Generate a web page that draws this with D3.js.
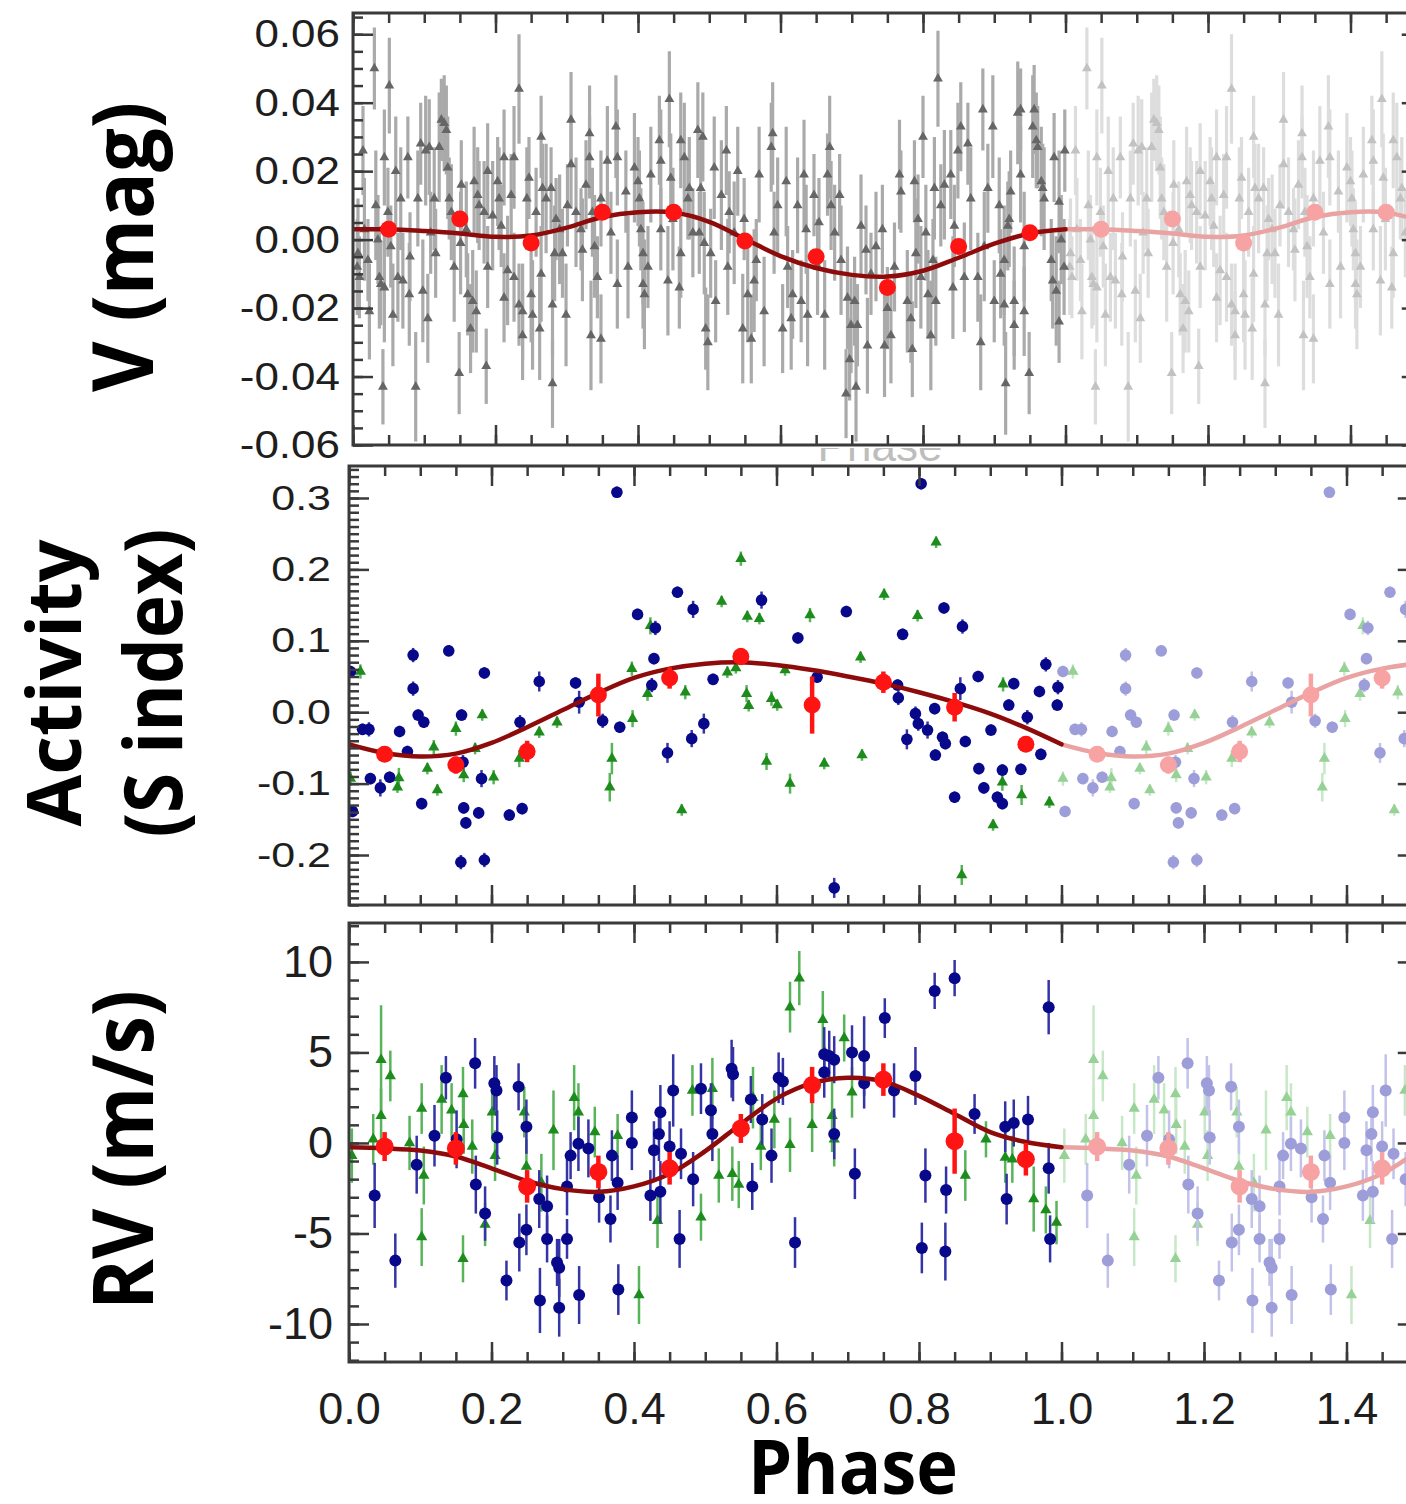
<!DOCTYPE html>
<html><head><meta charset="utf-8">
<script src="https://cdn.jsdelivr.net/npm/d3@7"></script>
<style>html,body{margin:0;padding:0;background:#fff;} svg{display:block;}</style>
</head><body>
<script>
// ---------------- DATA ----------------
const phaseDomain = [0, 1.5];
const xTickValues = [0, 0.2, 0.4, 0.6, 0.8, 1.0, 1.2, 1.4];
const xTickLabels = ["0.0", "0.2", "0.4", "0.6", "0.8", "1.0", "1.2", "1.4"];

const vTickValues = [-0.06, -0.04, -0.02, 0, 0.02, 0.04, 0.06];
const vTickLabels = ["-0.06", "-0.04", "-0.02", "0.00", "0.02", "0.04", "0.06"];
const sTickValues = [-0.2, -0.1, 0, 0.1, 0.2, 0.3];
const sTickLabels = ["-0.2", "-0.1", "0.0", "0.1", "0.2", "0.3"];
const rvTickValues = [-10, -5, 0, 5, 10];
const rvTickLabels = ["-10", "-5", "0", "5", "10"];

// V photometry: [phase, mag, err]
const vPhot = [
[0.006,-0.008,0.014],[0.009,-0.011,0.012],[0.007,-0.004,0.016],[0.014,0.026,0.013],[0.016,0.003,0.015],[0.021,-0.006,0.012],[0.023,-0.021,0.014],[0.030,0.050,0.012],[0.032,0.010,0.016],[0.035,0.000,0.013],
[0.037,-0.011,0.015],[0.039,-0.013,0.012],[0.042,-0.043,0.011],[0.044,0.024,0.014],[0.044,-0.014,0.016],[0.049,0.008,0.013],[0.051,0.045,0.014],[0.053,-0.002,0.012],[0.056,-0.022,0.015],[0.060,0.020,0.016],
[0.063,-0.011,0.013],[0.067,0.012,0.015],[0.070,-0.012,0.014],[0.077,0.024,0.012],[0.079,-0.016,0.015],[0.080,-0.005,0.013],[0.088,-0.043,0.016],[0.091,0.012,0.014],[0.095,0.028,0.012],[0.098,-0.015,0.015],
[0.102,0.026,0.016],[0.105,-0.023,0.013],[0.107,0.027,0.014],[0.109,0.002,0.012],[0.114,0.012,0.015],[0.116,-0.004,0.013],[0.121,0.027,0.016],[0.124,0.035,0.012],[0.128,0.034,0.014],[0.131,0.032,0.013],
[0.133,0.021,0.015],[0.135,0.012,0.012],[0.138,0.008,0.014],[0.142,-0.008,0.016],[0.149,-0.039,0.012],[0.151,-0.001,0.015],[0.152,0.016,0.013],[0.159,0.003,0.014],[0.161,-0.016,0.012],[0.165,-0.026,0.013],
[0.168,-0.018,0.015],[0.170,0.017,0.016],[0.173,-0.021,0.012],[0.175,0.013,0.014],[0.177,0.010,0.013],[0.184,0.008,0.015],[0.187,-0.037,0.011],[0.189,0.020,0.014],[0.189,-0.008,0.012],[0.196,0.007,0.016],
[0.203,0.017,0.013],[0.205,0.012,0.015],[0.208,0.004,0.012],[0.212,0.024,0.014],[0.212,-0.017,0.013],[0.217,-0.009,0.016],[0.222,0.013,0.012],[0.226,0.024,0.015],[0.226,-0.011,0.013],[0.233,0.044,0.016],
[0.233,-0.019,0.012],[0.238,-0.021,0.014],[0.238,-0.028,0.013],[0.244,0.012,0.015],[0.247,0.018,0.012],[0.250,-0.016,0.014],[0.252,-0.022,0.016],[0.257,0.008,0.013],[0.262,-0.026,0.015],[0.264,0.030,0.012],
[0.264,-0.010,0.014],[0.266,0.015,0.013],[0.271,0.012,0.016],[0.278,0.015,0.012],[0.280,-0.042,0.013],[0.280,-0.019,0.015],[0.283,-0.004,0.014],[0.285,0.006,0.012],[0.290,0.003,0.016],[0.294,-0.004,0.013],
[0.299,-0.022,0.015],[0.301,0.010,0.012],[0.306,0.035,0.014],[0.306,0.022,0.013],[0.313,0.008,0.016],[0.320,0.003,0.012],[0.322,-0.003,0.015],[0.327,0.016,0.013],[0.332,0.031,0.014],[0.332,0.024,0.012],
[0.334,-0.028,0.016],[0.336,0.008,0.013],[0.339,-0.002,0.015],[0.343,-0.011,0.012],[0.348,0.012,0.014],[0.348,-0.029,0.013],[0.357,0.023,0.016],[0.362,0.002,0.012],[0.369,0.033,0.015],[0.371,-0.013,0.013],
[0.371,0.024,0.014],[0.383,0.014,0.012],[0.386,-0.008,0.015],[0.395,0.021,0.016],[0.400,0.017,0.013],[0.402,0.012,0.014],[0.404,0.003,0.012],[0.407,-0.004,0.015],[0.407,-0.013,0.013],[0.409,-0.016,0.016],
[0.414,-0.008,0.012],[0.418,0.019,0.014],[0.430,0.029,0.013],[0.432,0.023,0.015],[0.432,0.003,0.012],[0.442,-0.012,0.016],[0.444,0.041,0.014],[0.446,0.018,0.013],[0.449,0.006,0.015],[0.458,-0.014,0.012],
[0.460,0.029,0.014],[0.460,-0.004,0.013],[0.465,0.024,0.016],[0.470,0.012,0.012],[0.472,0.015,0.015],[0.477,0.002,0.013],[0.484,0.032,0.014],[0.486,0.002,0.012],[0.488,0.015,0.016],[0.491,0.030,0.013],
[0.493,-0.001,0.015],[0.495,-0.026,0.012],[0.498,-0.030,0.014],[0.502,-0.004,0.013],[0.507,0.021,0.015],[0.509,-0.018,0.012],[0.517,0.013,0.016],[0.524,0.026,0.013],[0.526,-0.008,0.014],[0.528,0.008,0.012],
[0.535,0.002,0.015],[0.540,0.020,0.013],[0.547,-0.026,0.016],[0.549,0.006,0.012],[0.554,-0.016,0.014],[0.559,-0.029,0.013],[0.563,-0.012,0.015],[0.566,-0.006,0.012],[0.570,0.019,0.014],[0.577,-0.021,0.016],
[0.587,0.027,0.013],[0.589,0.031,0.015],[0.591,0.002,0.012],[0.596,0.010,0.014],[0.603,-0.026,0.013],[0.608,0.017,0.016],[0.610,-0.008,0.012],[0.615,-0.023,0.015],[0.617,-0.016,0.013],[0.624,0.010,0.014],
[0.629,-0.018,0.012],[0.633,0.019,0.016],[0.636,0.003,0.013],[0.638,-0.022,0.015],[0.647,0.013,0.012],[0.652,-0.008,0.014],[0.654,0.005,0.013],[0.662,-0.022,0.016],[0.666,0.019,0.012],[0.669,0.027,0.015],
[0.671,0.010,0.013],[0.676,0.002,0.014],[0.683,0.013,0.012],[0.685,-0.006,0.016],[0.692,-0.045,0.013],[0.694,-0.017,0.015],[0.697,-0.035,0.012],[0.699,-0.025,0.014],[0.704,-0.018,0.013],[0.706,-0.043,0.016],
[0.708,-0.025,0.012],[0.713,0.004,0.015],[0.720,-0.003,0.013],[0.722,-0.031,0.014],[0.727,-0.010,0.012],[0.734,-0.002,0.016],[0.743,0.003,0.013],[0.746,-0.031,0.015],[0.750,-0.020,0.012],[0.755,-0.028,0.014],
[0.760,-0.008,0.013],[0.767,0.019,0.016],[0.769,0.014,0.012],[0.778,-0.018,0.015],[0.783,-0.023,0.013],[0.785,-0.032,0.014],[0.788,0.017,0.012],[0.790,-0.004,0.016],[0.793,0.006,0.013],[0.797,-0.011,0.015],
[0.800,0.030,0.012],[0.804,0.002,0.014],[0.807,-0.016,0.013],[0.811,-0.028,0.016],[0.814,-0.006,0.012],[0.816,0.015,0.015],[0.818,-0.018,0.013],[0.821,0.047,0.014],[0.825,0.010,0.012],[0.830,0.016,0.016],
[0.839,0.019,0.013],[0.842,-0.014,0.015],[0.844,0.004,0.012],[0.849,0.026,0.014],[0.853,0.033,0.013],[0.858,-0.011,0.016],[0.863,0.028,0.012],[0.867,0.012,0.015],[0.877,-0.011,0.013],[0.881,-0.030,0.014],
[0.884,0.038,0.012],[0.886,-0.002,0.016],[0.891,0.015,0.013],[0.898,0.033,0.015],[0.900,-0.018,0.012],[0.907,0.010,0.014],[0.909,-0.010,0.013],[0.914,-0.006,0.016],[0.914,-0.019,0.012],[0.916,-0.042,0.015],
[0.919,0.004,0.013],[0.921,0.006,0.014],[0.923,0.014,0.012],[0.928,-0.018,0.016],[0.928,-0.025,0.013],[0.933,0.037,0.015],[0.937,0.038,0.012],[0.937,0.019,0.014],[0.942,-0.021,0.013],[0.942,-0.002,0.016],
[0.949,-0.039,0.012],[0.954,0.033,0.015],[0.956,0.038,0.013],[0.959,0.029,0.014],[0.961,0.027,0.012],[0.966,0.017,0.016],[0.968,0.015,0.013],[0.970,0.012,0.015],[0.980,-0.006,0.012],[0.982,-0.012,0.014],
[0.984,0.024,0.013],[0.987,-0.015,0.016],[0.991,-0.024,0.012],[0.991,0.011,0.015],[0.994,0.000,0.013],[0.998,-0.008,0.014],[0.999,0.026,0.012]
];

// Activity (S index), two instruments: [phase, S, err]
const sBlue = [
[0.002,0.057,0.008],[0.019,-0.024,0.008],[0.028,-0.024,0.010],[0.005,-0.139,0.008],[0.030,-0.093,0.008],[0.044,-0.106,0.012],[0.057,-0.091,0.008],[0.071,-0.027,0.008],[0.082,-0.055,0.008],[0.090,0.080,0.010],
[0.090,0.033,0.010],[0.097,-0.004,0.008],[0.105,-0.014,0.008],[0.102,-0.128,0.008],[0.140,0.086,0.008],[0.158,-0.004,0.008],[0.160,-0.070,0.010],[0.161,-0.134,0.008],[0.164,-0.155,0.008],[0.157,-0.210,0.010],
[0.182,-0.141,0.008],[0.186,-0.093,0.012],[0.190,0.055,0.008],[0.190,-0.207,0.010],[0.225,-0.144,0.008],[0.240,-0.014,0.010],[0.243,-0.135,0.008],[0.267,0.043,0.014],[0.318,0.041,0.008],[0.323,0.014,0.016],
[0.356,-0.012,0.010],[0.380,-0.021,0.008],[0.376,0.308,0.008],[0.405,0.137,0.008],[0.430,0.118,0.010],[0.428,0.075,0.008],[0.425,0.038,0.010],[0.447,-0.057,0.014],[0.461,0.168,0.008],[0.483,0.144,0.012],
[0.481,-0.037,0.012],[0.498,-0.016,0.014],[0.511,0.046,0.008],[0.579,0.157,0.012],[0.630,0.104,0.008],[0.657,0.049,0.008],[0.681,-0.246,0.014],[0.698,0.141,0.008],[0.777,0.109,0.008],[0.770,0.038,0.008],
[0.771,0.020,0.010],[0.803,0.320,0.008],[0.795,-0.002,0.010],[0.799,-0.016,0.010],[0.812,-0.025,0.012],[0.783,-0.038,0.014],[0.822,0.005,0.008],[0.823,-0.060,0.008],[0.835,0.146,0.008],[0.833,-0.035,0.008],
[0.837,-0.044,0.008],[0.850,-0.119,0.008],[0.858,0.033,0.016],[0.861,0.120,0.010],[0.865,-0.041,0.008],[0.883,0.050,0.008],[0.884,-0.079,0.008],[0.891,-0.106,0.008],[0.901,-0.025,0.008],[0.910,-0.119,0.008],
[0.917,-0.128,0.008],[0.917,-0.081,0.008],[0.926,0.010,0.008],[0.933,0.040,0.008],[0.978,0.067,0.010],[0.969,0.029,0.008],[0.995,0.035,0.010],[0.994,0.010,0.008],[0.952,-0.007,0.010],[0.971,-0.059,0.008],
[0.943,-0.080,0.008]
];
const sGreen = [
[0.016,0.057,0.010],[0.002,-0.093,0.010],[0.070,-0.092,0.014],[0.068,-0.105,0.008],[0.119,-0.049,0.010],[0.110,-0.079,0.008],[0.124,-0.109,0.008],[0.150,-0.023,0.010],[0.161,-0.088,0.010],[0.177,-0.051,0.008],
[0.187,-0.004,0.008],[0.203,-0.091,0.010],[0.239,-0.065,0.012],[0.267,-0.028,0.008],[0.292,-0.014,0.008],[0.369,-0.065,0.022],[0.366,-0.105,0.020],[0.397,0.061,0.010],[0.398,-0.009,0.012],[0.419,0.026,0.010],
[0.423,0.121,0.012],[0.467,-0.137,0.008],[0.472,0.028,0.010],[0.523,0.155,0.008],[0.531,0.056,0.008],[0.543,0.062,0.008],[0.550,0.215,0.010],[0.559,0.134,0.008],[0.576,0.131,0.008],[0.558,0.026,0.012],
[0.561,0.009,0.008],[0.593,0.019,0.010],[0.601,0.010,0.008],[0.612,0.059,0.008],[0.586,-0.069,0.012],[0.619,-0.100,0.014],[0.647,0.136,0.010],[0.667,-0.072,0.008],[0.718,0.077,0.008],[0.720,-0.060,0.008],
[0.751,0.165,0.008],[0.798,0.135,0.008],[0.824,0.238,0.008],[0.860,-0.228,0.014],[0.904,-0.158,0.008],[0.918,0.039,0.010],[0.917,-0.098,0.012],[0.944,-0.116,0.014],[0.983,-0.126,0.008]
];

// Radial velocity (m/s), two instruments: [phase, RV, err]
const rvBlue = [
[0.036,-2.9,1.8],[0.065,-6.5,1.5],[0.095,-1.2,1.6],[0.120,0.4,1.7],[0.136,3.6,1.2],[0.151,0.2,1.6],[0.177,4.4,1.4],[0.178,-2.3,1.6],[0.191,-3.9,1.5],[0.204,3.3,1.5],
[0.207,2.9,1.4],[0.208,0.3,1.5],[0.221,-7.6,1.1],[0.238,3.1,1.3],[0.249,0.9,1.5],[0.249,-4.8,1.4],[0.239,-5.5,1.6],[0.267,-3.1,1.6],[0.278,-3.5,1.7],[0.278,-5.3,1.3],
[0.268,-8.7,1.8],[0.292,-6.6,1.3],[0.295,-6.9,1.6],[0.295,-9.1,1.6],[0.306,-2.4,1.6],[0.306,-5.3,1.1],[0.311,-0.7,1.3],[0.322,-0.05,1.5],[0.336,-0.3,1.6],[0.323,-8.4,1.6],
[0.351,-3.0,1.4],[0.369,-0.7,1.4],[0.367,-4.2,1.3],[0.377,-2.2,1.5],[0.378,-8.1,1.4],[0.397,1.4,1.5],[0.397,0.0,1.5],[0.423,-2.9,1.4],[0.428,-0.4,1.6],[0.435,0.5,1.5],
[0.437,1.7,1.5],[0.437,-2.7,1.7],[0.450,-0.2,1.4],[0.455,2.9,2.0],[0.466,-0.6,1.4],[0.464,-5.3,1.6],[0.483,-2.0,1.5],[0.494,3.0,1.4],[0.508,1.8,1.5],[0.510,0.5,1.5],
[0.537,4.1,1.6],[0.539,3.8,1.5],[0.564,2.4,1.3],[0.566,-2.4,1.3],[0.580,1.3,1.4],[0.593,-0.7,1.5],[0.603,3.6,1.4],[0.609,3.4,1.3],[0.626,-5.5,1.4],[0.667,4.9,1.5],
[0.674,4.8,1.4],[0.681,4.6,1.3],[0.667,3.9,1.4],[0.681,0.5,1.4],[0.706,5.0,1.5],[0.710,-1.7,1.4],[0.723,4.8,2.2],[0.723,3.3,1.4],[0.752,6.9,1.1],[0.765,2.9,1.5],
[0.795,3.7,1.6],[0.804,-5.8,1.4],[0.809,-1.8,1.5],[0.822,8.4,1.0],[0.837,-6.0,1.6],[0.838,-2.6,1.3],[0.850,9.1,1.0],[0.878,1.6,1.1],[0.921,0.9,1.4],[0.923,-3.1,1.4],
[0.933,1.1,1.3],[0.953,1.3,1.3],[0.982,7.5,1.5],[0.982,-1.4,1.4],[0.984,-5.3,1.3]
];
const rvGreen = [
[0.004,-0.7,1.5],[0.034,0.2,1.4],[0.045,4.6,3.0],[0.045,1.5,1.5],[0.058,3.7,1.4],[0.085,0.0,1.5],[0.102,1.9,1.4],[0.105,-1.8,1.6],[0.102,-5.2,1.6],[0.130,2.4,1.9],
[0.144,1.8,1.5],[0.160,2.7,1.5],[0.161,1.0,1.6],[0.173,-0.2,1.5],[0.160,-6.4,1.3],[0.191,-4.5,1.2],[0.201,1.7,1.5],[0.205,-0.7,1.4],[0.246,1.7,1.4],[0.249,-1.3,1.5],
[0.270,-2.2,1.6],[0.287,0.7,2.2],[0.316,2.5,1.8],[0.322,1.7,1.6],[0.345,0.6,1.4],[0.377,0.4,1.2],[0.407,-8.4,1.6],[0.433,-4.3,1.5],[0.482,2.9,1.4],[0.494,-4.1,1.3],
[0.510,3.0,1.7],[0.519,-1.8,1.5],[0.538,-1.7,1.5],[0.547,-2.3,1.3],[0.567,2.5,1.7],[0.578,-0.2,1.3],[0.597,1.3,1.6],[0.619,7.5,1.4],[0.632,9.1,1.5],[0.619,-0.1,1.5],
[0.650,1.0,1.5],[0.665,6.8,1.6],[0.678,1.5,2.0],[0.681,0.2,1.5],[0.695,5.8,1.3],[0.706,2.8,1.4],[0.865,-1.8,1.4],[0.894,0.2,1.0],[0.921,-0.8,1.4],[0.931,-0.9,1.3],
[0.961,-3.1,1.8],[0.978,-3.7,1.3],[0.993,-4.4,1.2]
];

// Binned averages: [phase, value, err]
const vBins = [[0.05,0.003,0],[0.15,0.006,0],[0.25,-0.001,0],[0.35,0.008,0],[0.45,0.008,0],[0.55,-0.0004,0],[0.65,-0.005,0],[0.75,-0.014,0],[0.85,-0.002,0],[0.95,0.002,0]];
const sBins = [[0.05,-0.059,0.008],[0.15,-0.074,0.012],[0.25,-0.055,0.015],[0.35,0.024,0.030],[0.45,0.048,0.015],[0.55,0.078,0.012],[0.65,0.010,0.040],[0.75,0.042,0.015],[0.85,0.007,0.020],[0.95,-0.045,0.010]];
const rvBins = [[0.05,-0.2,0.8],[0.15,-0.3,0.9],[0.25,-2.4,0.9],[0.35,-1.6,0.9],[0.45,-1.4,0.9],[0.55,0.8,0.8],[0.65,3.2,1.0],[0.75,3.5,0.9],[0.85,0.1,1.8],[0.95,-0.9,0.9]];

// Fitted model curves sampled over one phase: [phase, value]
const vModel = [[0,0.003],[0.05,0.003],[0.10,0.0025],[0.15,0.0018],[0.20,0.0008],[0.25,0.0012],[0.30,0.0035],[0.35,0.0066],[0.40,0.0080],[0.45,0.0079],[0.50,0.0052],[0.55,0.0002],[0.60,-0.0048],[0.65,-0.0083],[0.70,-0.0103],[0.75,-0.0108],[0.80,-0.0091],[0.85,-0.0053],[0.90,-0.0012],[0.95,0.0018],[1.00,0.003]];
const sModel = [[0,-0.045],[0.05,-0.057],[0.10,-0.062],[0.15,-0.058],[0.20,-0.043],[0.25,-0.021],[0.30,0.003],[0.35,0.027],[0.40,0.048],[0.45,0.061],[0.50,0.068],[0.55,0.070],[0.60,0.066],[0.65,0.059],[0.70,0.050],[0.75,0.040],[0.80,0.028],[0.85,0.014],[0.90,-0.002],[0.95,-0.022],[1.00,-0.045]];
const rvModel = [[0,-0.24],[0.05,-0.30],[0.10,-0.42],[0.15,-0.75],[0.20,-1.40],[0.25,-2.10],[0.30,-2.55],[0.35,-2.70],[0.40,-2.40],[0.45,-1.70],[0.50,-0.45],[0.55,1.05],[0.60,2.45],[0.65,3.30],[0.70,3.60],[0.75,3.40],[0.80,2.60],[0.85,1.60],[0.90,0.60],[0.95,0.05],[1.00,-0.24]];

// ---------------- DRAWING ----------------
const W = 1406, H = 1504;
const svg = d3.select("body").append("svg").attr("width", W).attr("height", H);
svg.append("rect").attr("width", W).attr("height", H).attr("fill", "#fff");
const defs = svg.append("defs");

const COL = {
  gray: "#666666", grayBar: "#aaaaaa", grayL: "#c2c2c2", grayBarL: "#dddddd",
  navy: "#08088a", navyBar: "#3434a6", navyL: "#9d9dd9", navyBarL: "#c2c2ea",
  green: "#1d8c1d", greenBar: "#58b458", greenL: "#96d296", greenBarL: "#c6e8c6",
  red: "#ff1414", redL: "#f7a3a3", curve: "#8e0b0b", curveL: "#eaa3a3", axis: "#3a3a3a"
};
const TICK_FONT = "'Liberation Sans', Arial, Helvetica, sans-serif";
const TITLE_FONT = "'Open Sans', 'Noto Sans', sans-serif";
const PX_PER_PHASE = 712.5;

function drawSeries(g, data, x, y, shift, o) {
  const pts = data.map(d => [d[0] + shift, d[1], d[2]]).filter(d => d[0] >= phaseDomain[0] && d[0] <= phaseDomain[1] + 0.02);
  g.append("g").selectAll("line").data(pts).join("line")
    .attr("x1", d => x(d[0])).attr("x2", d => x(d[0]))
    .attr("y1", d => y(d[1] - d[2])).attr("y2", d => y(d[1] + d[2]))
    .attr("stroke", o.bar).attr("stroke-width", o.barW);
  if (o.shape === "circle") {
    g.append("g").selectAll("circle").data(pts).join("circle")
      .attr("cx", d => x(d[0])).attr("cy", d => y(d[1])).attr("r", o.r).attr("fill", o.fill);
  } else {
    const sym = d3.symbol().type(d3.symbolTriangle).size(o.size);
    g.append("g").selectAll("path").data(pts).join("path")
      .attr("transform", d => `translate(${x(d[0])},${y(d[1])})`).attr("d", sym).attr("fill", o.fill);
  }
}

function drawModel(g, data, x, y, shift, color) {
  const line = d3.line().x(d => x(d[0] + shift)).y(d => y(d[1])).curve(d3.curveCatmullRom);
  g.append("path").datum(data).attr("d", line).attr("fill", "none")
    .attr("stroke", color).attr("stroke-width", 4.5).attr("stroke-linecap", "round");
}

function drawBins(g, data, x, y, shift, color, r) {
  const pts = data.map(d => [d[0] + shift, d[1], d[2]]).filter(d => d[0] <= phaseDomain[1] + 0.02);
  g.append("g").selectAll("line").data(pts.filter(d => d[2] > 0)).join("line")
    .attr("x1", d => x(d[0])).attr("x2", d => x(d[0]))
    .attr("y1", d => y(d[1] - d[2])).attr("y2", d => y(d[1] + d[2]))
    .attr("stroke", color).attr("stroke-width", 4.5);
  g.append("g").selectAll("circle").data(pts).join("circle")
    .attr("cx", d => x(d[0])).attr("cy", d => y(d[1])).attr("r", r).attr("fill", color);
}

function panel(cfg) {
  const x = d3.scaleLinear().domain(phaseDomain).range([cfg.x0, cfg.x0 + PX_PER_PHASE * (phaseDomain[1] - phaseDomain[0])]);
  const y = d3.scaleLinear().domain(cfg.ydom).range([cfg.bottom, cfg.top]);
  const [xl, xr] = x.range();
  const id = "clip-" + cfg.key;
  defs.append("clipPath").attr("id", id).append("rect")
    .attr("x", xl).attr("y", cfg.top).attr("width", xr - xl).attr("height", cfg.bottom - cfg.top);
  const g = svg.append("g");
  const plot = g.append("g").attr("clip-path", `url(#${id})`);

  // faded repeat of the first half-cycle beyond phase 1
  cfg.series.forEach(s => drawSeries(plot, s.data, x, y, 1, s.light));
  cfg.series.forEach(s => drawSeries(plot, s.data.filter(d => d[0] < 1), x, y, 0, s.dark));
  drawModel(plot, cfg.model, x, y, 1, COL.curveL);
  drawModel(plot, cfg.model, x, y, 0, COL.curve);
  drawBins(plot, cfg.bins, x, y, 1, COL.redL, cfg.binR);
  drawBins(plot, cfg.bins, x, y, 0, COL.red, cfg.binR);

  // axes
  const xMinor = d3.range(0, 1.5001, 0.05);
  const xMajor = xTickValues;
  const yMinor = d3.range(Math.ceil(cfg.ydom[0] / cfg.minor), Math.floor(cfg.ydom[1] / cfg.minor) + 1).map(k => k * cfg.minor);
  const axes = g.append("g").attr("color", COL.axis);
  const styl = s => s.call(a => a.select(".domain").remove()).call(a => a.selectAll("line").attr("stroke-width", 2.5));

  axes.append("g").attr("transform", `translate(0,${cfg.bottom})`).call(d3.axisBottom(x).tickValues(xMinor).tickSize(-10).tickFormat("")).call(styl);
  axes.append("g").attr("transform", `translate(0,${cfg.top})`).call(d3.axisTop(x).tickValues(xMinor).tickSize(-10).tickFormat("")).call(styl);
  axes.append("g").attr("transform", `translate(0,${cfg.top})`).call(d3.axisTop(x).tickValues(xMajor).tickSize(-20).tickFormat("")).call(styl);
  const bx = axes.append("g").attr("transform", `translate(0,${cfg.bottom})`)
    .call(d3.axisBottom(x).tickValues(xMajor).tickSize(-20).tickPadding(30)
      .tickFormat(cfg.xLabels ? ((d, i) => xTickLabels[i]) : ""))
    .call(styl);
  bx.selectAll("text").attr("font-family", TICK_FONT).attr("font-size", 45).attr("fill", "#1e1e1e");

  axes.append("g").attr("transform", `translate(${xl},0)`).call(d3.axisLeft(y).tickValues(yMinor).tickSize(-10).tickFormat("")).call(styl);
  axes.append("g").attr("transform", `translate(${xr},0)`).call(d3.axisRight(y).tickValues(yMinor).tickSize(-10).tickFormat("")).call(styl);
  axes.append("g").attr("transform", `translate(${xr},0)`).call(d3.axisRight(y).tickValues(cfg.major).tickSize(-20).tickFormat("")).call(styl);
  const ly = axes.append("g").attr("transform", `translate(${xl},0)`)
    .call(d3.axisLeft(y).tickValues(cfg.major).tickSize(-20).tickPadding(cfg.pad).tickFormat((d, i) => cfg.labels[i]))
    .call(styl);
  ly.selectAll("text").attr("font-family", TICK_FONT).attr("font-size", cfg.fs).attr("fill", "#1e1e1e")
    .attr("transform", `scale(1,${cfg.sy})`);

  g.append("rect").attr("x", xl).attr("y", cfg.top).attr("width", xr - xl).attr("height", cfg.bottom - cfg.top)
    .attr("fill", "none").attr("stroke", COL.axis).attr("stroke-width", 3);
}

// ghost of a hidden axis title between panel 1 and 2
defs.append("clipPath").attr("id", "ghost").append("rect").attr("x", 780).attr("y", 448).attr("width", 220).attr("height", 16);
svg.append("text").attr("clip-path", "url(#ghost)").attr("x", 880).attr("y", 461).attr("text-anchor", "middle")
  .attr("font-family", TICK_FONT).attr("font-size", 44).attr("fill", "#bdbdbd").text("Phase");

panel({
  key: "v", top: 13, bottom: 445, x0: 353, ydom: [-0.06, 0.0662],
  major: vTickValues, labels: vTickLabels, minor: 0.005, fs: 44, sy: 0.9, pad: 13,
  series: [{ data: vPhot,
    dark: { shape: "tri", size: 42, fill: COL.gray, bar: COL.grayBar, barW: 3.2 },
    light: { shape: "tri", size: 42, fill: COL.grayL, bar: COL.grayBarL, barW: 3.2 } }],
  model: vModel, bins: vBins, binR: 8.5
});
panel({
  key: "s", top: 466, bottom: 905, x0: 349, ydom: [-0.270, 0.3448],
  major: sTickValues, labels: sTickLabels, minor: 0.01, fs: 43, sy: 0.8, pad: 18,
  series: [
    { data: sGreen,
      dark: { shape: "tri", size: 55, fill: COL.green, bar: COL.greenBar, barW: 2.5 },
      light: { shape: "tri", size: 55, fill: COL.greenL, bar: COL.greenBarL, barW: 2.5 } },
    { data: sBlue,
      dark: { shape: "circle", r: 5.8, fill: COL.navy, bar: COL.navyBar, barW: 2.5 },
      light: { shape: "circle", r: 5.8, fill: COL.navyL, bar: COL.navyBarL, barW: 2.5 } }],
  model: sModel, bins: sBins, binR: 8.5
});
panel({
  key: "rv", top: 923, bottom: 1362, x0: 349, ydom: [-12.1, 12.15],
  major: rvTickValues, labels: rvTickLabels, minor: 1, fs: 45, sy: 1, pad: 16, xLabels: true,
  series: [
    { data: rvGreen,
      dark: { shape: "tri", size: 55, fill: COL.green, bar: COL.greenBar, barW: 2.5 },
      light: { shape: "tri", size: 55, fill: COL.greenL, bar: COL.greenBarL, barW: 2.5 } },
    { data: rvBlue,
      dark: { shape: "circle", r: 6, fill: COL.navy, bar: COL.navyBar, barW: 2.5 },
      light: { shape: "circle", r: 6, fill: COL.navyL, bar: COL.navyBarL, barW: 2.5 } }],
  model: rvModel, bins: rvBins, binR: 9
});

// axis titles
function vTitle(text, xBase, yCenter, fs, len) {
  svg.append("text").attr("transform", `translate(${xBase},${yCenter}) rotate(-90)`)
    .attr("x", -len / 2).attr("y", 0)
    .attr("font-family", TITLE_FONT).attr("font-weight", 700).attr("font-size", fs)
    .attr("textLength", len).attr("lengthAdjust", "spacingAndGlyphs").attr("fill", "#000").text(text);
}
vTitle("V (mag)", 153, 247, 84, 290);
vTitle("Activity", 81, 683, 76, 287);
vTitle("(S index)", 182, 683, 80, 309);
vTitle("RV (m/s)", 153, 1150, 84, 320);
svg.append("text").attr("x", 748).attr("y", 1494)
  .attr("font-family", TITLE_FONT).attr("font-weight", 700).attr("font-size", 76)
  .attr("textLength", 210).attr("lengthAdjust", "spacingAndGlyphs").attr("fill", "#000").text("Phase");
</script>
</body></html>
